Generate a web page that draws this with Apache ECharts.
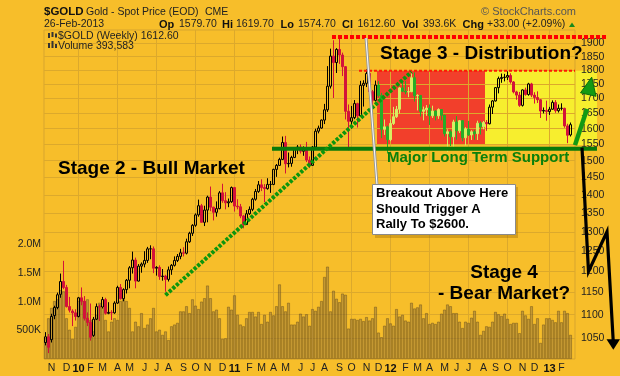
<!DOCTYPE html>
<html>
<head>
<meta charset="utf-8">
<script src="https://cdn.jsdelivr.net/npm/echarts@6/dist/echarts.min.js"></script>
<style>
  html, body { margin: 0; padding: 0; background: #f7be2a; }
  #chart { width: 620px; height: 376px; }
</style>
</head>
<body>
<div id="chart"></div>
<script>
// weekly bars, first week starts on this Monday
const START_WEEK = '2009-10-19';

const opens = [
  1040,1052,1046,1098,1116,1146,1176,1162,1118,1108, 1104,1096,1138,1130,1092,1083,1055,1090,1118,1117,
  1134,1103,1105,1104,1126,1162,1136,1157,1179,1209, 1228,1177,1213,1218,1227,1256,1256,1208,1210,1188,
  1189,1181,1204,1215,1227,1237,1246,1245,1274,1296, 1317,1345,1370,1325,1358,1394,1366,1352,1362,1406,
  1384,1378,1381,1421,1369,1367,1342,1319,1348,1360, 1388,1410,1429,1421,1418,1430,1430,1474,1486,1504,
  1556,1491,1492,1510,1536,1542,1529,1539,1502,1486, 1542,1592,1602,1628,1662,1743,1852,1828,1877,1856,
  1813,1657,1624,1636,1683,1642,1746,1753,1788,1724, 1694,1747,1711,1598,1606,1565,1617,1639,1664,1737,
  1725,1723,1724,1773,1710,1711,1657,1662,1668,1642, 1658,1642,1663,1644,1584,1590,1574,1622,1593,1626,
  1571,1599,1580,1590,1584,1618,1606,1620,1616,1671, 1692,1738,1770,1774,1775,1781,1758,1723,1712,1677,
  1730,1714,1751,1712,1704,1696,1658,1660,1656,1664, 1687,1659,1667,1667,1609,1580
];
const highs = [
  1062,1058,1102,1120,1150,1195,1226,1168,1140,1112, 1112,1140,1162,1142,1105,1125,1095,1125,1123,1140,
  1138,1128,1110,1130,1166,1170,1160,1182,1213,1249, 1234,1218,1222,1250,1261,1265,1262,1213,1215,1206,
  1192,1212,1218,1237,1243,1256,1260,1282,1300,1320, 1349,1387,1375,1370,1398,1424,1367,1382,1411,1432,
  1408,1390,1424,1423,1388,1375,1345,1358,1368,1392, 1417,1440,1445,1431,1448,1440,1476,1490,1509,1575,
  1577,1525,1515,1540,1548,1550,1544,1558,1513,1545, 1600,1610,1630,1682,1815,1880,1912,1882,1921,1865,
  1815,1680,1675,1695,1686,1762,1764,1803,1790,1730, 1763,1761,1720,1630,1610,1630,1672,1675,1740,1764,
  1761,1740,1790,1792,1715,1712,1673,1678,1680,1676, 1661,1667,1664,1645,1598,1595,1629,1641,1628,1628,
  1605,1625,1595,1597,1626,1624,1625,1628,1680,1695, 1740,1777,1788,1787,1796,1789,1761,1727,1723,1732,
  1738,1755,1755,1722,1725,1698,1670,1693,1672,1694, 1695,1680,1684,1669,1616,1620
];
const lows = [
  1034,1018,1040,1090,1112,1138,1158,1116,1105,1075, 1087,1094,1121,1087,1075,1044,1052,1088,1086,1114,
  1100,1101,1088,1102,1124,1134,1130,1148,1160,1195, 1160,1176,1197,1210,1221,1230,1196,1190,1180,1178,
  1152,1176,1192,1212,1223,1230,1237,1242,1271,1289, 1313,1340,1325,1315,1325,1355,1330,1340,1360,1378,
  1360,1366,1378,1354,1360,1336,1309,1318,1345,1355, 1384,1406,1411,1380,1415,1406,1428,1452,1485,1502,
  1462,1480,1482,1508,1520,1522,1515,1496,1478,1485, 1540,1585,1600,1615,1655,1735,1702,1790,1823,1779,
  1630,1532,1600,1631,1604,1641,1673,1740,1710,1672, 1690,1704,1570,1580,1522,1560,1612,1635,1650,1722,
  1715,1705,1722,1690,1660,1640,1627,1642,1612,1635, 1627,1632,1627,1575,1527,1545,1533,1565,1586,1560,
  1547,1577,1564,1565,1564,1581,1598,1593,1614,1648, 1690,1718,1755,1760,1765,1752,1718,1696,1672,1673,
  1710,1710,1705,1683,1685,1635,1650,1626,1645,1662, 1652,1653,1660,1603,1554,1575
];
const closes = [
  1052,1030,1096,1116,1145,1176,1162,1118,1110,1104, 1096,1138,1130,1092,1083,1051,1090,1118,1117,1134,
  1103,1105,1104,1126,1162,1136,1157,1179,1209,1228, 1177,1213,1218,1227,1256,1256,1208,1210,1188,1189,
  1181,1204,1215,1227,1237,1246,1245,1274,1296,1317, 1345,1370,1325,1358,1394,1366,1352,1362,1406,1384,
  1378,1381,1421,1369,1367,1342,1319,1348,1360,1388, 1410,1429,1421,1418,1430,1430,1474,1486,1504,1556,
  1491,1492,1510,1536,1542,1529,1539,1502,1486,1542, 1592,1602,1628,1662,1743,1852,1828,1877,1856,1813,
  1657,1624,1636,1683,1642,1746,1753,1788,1724,1694, 1747,1711,1598,1606,1565,1617,1639,1664,1737,1725,
  1723,1724,1773,1710,1711,1657,1662,1668,1642,1658, 1642,1663,1644,1584,1590,1574,1622,1593,1626,1571,
  1599,1580,1590,1584,1618,1606,1620,1616,1671,1692, 1738,1770,1774,1775,1781,1758,1723,1712,1677,1730,
  1714,1751,1712,1704,1696,1658,1660,1656,1664,1687, 1659,1667,1667,1609,1579,1613
];
// weekly volume, thousands
const volumes = [
  360,710,890,1010,1040,1200,1180,710,510,350, 560,1010,1040,1010,1040,680,480,770,980,890,
  680,480,650,710,680,1010,1040,1010,890,480, 650,570,800,540,600,710,890,480,510,420,
  480,330,570,600,630,830,830,920,800,1040, 930,870,1000,1060,1280,1060,830,860,710,350,
  360,910,860,1110,770,600,570,710,820,820, 740,820,610,770,650,820,760,920,1300,920,
  830,980,600,600,650,790,740,780,
  580,870,840,910,1010,1430,1610,830,1190,1050, 990,1140,1120,530,700,700,680,700,660,730,
  670,710,910,460,380,580,710,620,580,870, 740,770,670,650,980,880,900,950,710,800,
  610,630,610,650,790,860,950,920,800,800, 650,540,650,630,720,840,650,420,490,570,
  560,650,820,780,750,790,700,610,630,630, 450,840,760,700,920,610,710,280,600,710,
  710,680,640,840,640,840,800,420
];

const priceTicks = [1050,1100,1150,1200,1250,1300,1350,1400,1450,1500,1550,1600,1650,1700,1750,1800,1850,1900];
const volumeTicks = [500, 1000, 1500, 2000];
const volumeTickLabels = ['500K', '1.0M', '1.5M', '2.0M'];
const monthLetters = ['J','F','M','A','M','J','J','A','S','O','N','D'];

// annotation levels (prices) and week indexes
const PEAK_LINE = 1925;
const ZONE_TOP = 1798;
const ZONE_BOTTOM = 1548;
const SUPPORT = 1537;
const RED_ZONE = [111, 146];
const TREND_FROM = [40, 1144];
const TREND_TO = [122, 1794];

const BG = '#f7be2a';
const GRID_LINE = '#dca92c';
const FONT = '"Liberation Sans", Arial, sans-serif';

const categories = [];
const t0 = Date.parse(START_WEEK + 'T00:00:00Z');
for (let i = 0; i < closes.length; i++) {
  categories.push(new Date(t0 + i * 7 * 86400000).toISOString().slice(0, 10));
}
categories.push(''); // empty slot at the right edge

function monthOf(i) { return +categories[i].slice(5, 7); }
function isMonthStart(i) {
  return i > 0 && i < closes.length && monthOf(i) !== monthOf(i - 1);
}
function isQuarterStart(i) {
  return isMonthStart(i) && (monthOf(i) - 1) % 3 === 0;
}

const L = Math.log;
const candleData = closes.map((c, i) => {
  const prev = i ? closes[i - 1] : opens[i];
  const inRed = i >= RED_ZONE[0] && i <= RED_ZONE[1];
  const rising = c >= prev;
  const stroke = inRed ? (rising ? '#d8ee62' : '#26ad26') : (rising ? '#000000' : '#d3123a');
  const fill = c > opens[i] ? (inRed ? stroke : 'rgba(0,0,0,0)') : stroke;
  return {
    value: [L(opens[i]), L(c), L(lows[i]), L(highs[i])],
    itemStyle: { color: fill, color0: fill, borderColor: stroke, borderColor0: stroke }
  };
});

const chart = echarts.init(document.getElementById('chart'));

chart.setOption({
  backgroundColor: BG,
  animation: false,
  textStyle: { fontFamily: FONT },
  grid: [
    { left: 44, top: 30, width: 531, height: 329, show: true, borderColor: '#d7a52e', borderWidth: 1 },
    { left: 44, top: 30, width: 531, height: 329 }
  ],
  xAxis: [
    {
      type: 'category', gridIndex: 0, data: categories,
      axisLine: { show: false }, axisTick: { show: false },
      axisLabel: {
        interval: (i) => isMonthStart(i),
        formatter: (v) => {
          const m = +v.slice(5, 7);
          return m === 1 ? '{y|' + v.slice(2, 4) + '}' : monthLetters[m - 1];
        },
        margin: 4, color: '#222', fontSize: 10.5, fontFamily: FONT,
        rich: { y: { fontWeight: 'bold', fontSize: 11, color: '#111', fontFamily: FONT } }
      },
      splitLine: {
        show: true, interval: (i) => isQuarterStart(i), alignWithLabel: true,
        lineStyle: { color: GRID_LINE, width: 1 }
      }
    },
    { type: 'category', gridIndex: 1, data: categories, show: false }
  ],
  yAxis: [
    {
      type: 'value', gridIndex: 0, position: 'right',
      min: L(1006), max: L(1952),
      axisLine: { show: false },
      axisTick: { show: false, customValues: priceTicks.map(L) },
      axisLabel: {
        customValues: priceTicks.map(L),
        formatter: (v) => String(Math.round(Math.exp(v))),
        margin: 6, color: '#222', fontSize: 10.5, fontFamily: FONT
      },
      splitLine: { show: true, lineStyle: { color: GRID_LINE, width: 1 } }
    },
    {
      type: 'value', gridIndex: 1, position: 'left', min: 0, max: 5737,
      axisLine: { show: false },
      axisTick: { show: false, customValues: volumeTicks },
      axisLabel: {
        customValues: volumeTicks,
        formatter: (v) => volumeTickLabels[volumeTicks.indexOf(v)],
        margin: 3, color: '#222', fontSize: 10.5, fontFamily: FONT
      },
      splitLine: { show: false }
    }
  ],
  series: [
    {
      type: 'bar', xAxisIndex: 1, yAxisIndex: 1, data: volumes, silent: true,
      barCategoryGap: '8%',
      itemStyle: { color: 'rgba(140,110,60,0.48)', borderColor: 'rgba(105,78,28,0.75)', borderWidth: 0.6 }
    },
    {
      type: 'candlestick', xAxisIndex: 0, yAxisIndex: 0, data: candleData, silent: true,
      barWidth: 2.8, itemStyle: { borderWidth: 1 }
    }
  ]
});

// annotations, placed through the price scale
const at = (i, p) => chart.convertToPixel({ gridIndex: 0 }, [i, L(p)]);
const band = at(1, 1500)[0] - at(0, 1500)[0];
const edge = (i) => at(i, 1500)[0] - band / 2;
const yOf = (p) => at(0, p)[1];
const right = edge(closes.length + 1);

function text(x, y, s, font, fill, align) {
  return { type: 'text', x: x, y: y, z: 20,
    style: { text: s, font: font, fill: fill || '#000', align: align || 'left', verticalAlign: 'middle' } };
}
function line(points, stroke, width, dash, z) {
  return { type: 'polyline', z: z || 15, shape: { points: points },
    style: { stroke: stroke, lineWidth: width, lineDash: dash || null, fill: null } };
}

const zoneTop = yOf(ZONE_TOP), zoneBottom = yOf(ZONE_BOTTOM);
const els = [
  { type: 'rect', z: -1, shape: { x: edge(RED_ZONE[0]), y: zoneTop, width: edge(RED_ZONE[1] + 1) - edge(RED_ZONE[0]), height: zoneBottom - zoneTop },
    style: { fill: '#f23f2b' } },
  { type: 'rect', z: -1, shape: { x: edge(RED_ZONE[1] + 1), y: zoneTop, width: right + 22 - edge(RED_ZONE[1] + 1), height: zoneBottom - zoneTop },
    style: { fill: '#f7ee2e' } },
  line([[edge(96), yOf(PEAK_LINE)], [right + 32, yOf(PEAK_LINE)]], '#ff0000', 4, [4, 2]),
  line([[edge(105), zoneTop], [right, zoneTop]], '#ff1a00', 2, [3, 2]),
  line([[edge(76), yOf(SUPPORT)], [right + 22, yOf(SUPPORT)]], '#0a7a0a', 4),
  line([at(TREND_FROM[0], TREND_FROM[1]), at(TREND_TO[0], TREND_TO[1])], '#0c960c', 4, [3.2, 1.6]),

  text(58, 168.5, 'Stage 2 - Bull Market', 'bold 19px ' + FONT),
  text(380, 54, 'Stage 3 - Distribution?', 'bold 19px ' + FONT),
  text(387, 158.3, 'Major Long Term Support', 'bold 15px ' + FONT, '#0b800b'),
  text(504, 273, 'Stage 4', 'bold 19px ' + FONT, '#000', 'center'),
  text(504, 294, '- Bear Market?', 'bold 19px ' + FONT, '#000', 'center'),

  // callout
  line([[366, 38], [377, 185]], '#9a9a9a', 3),
  line([[366, 38], [377, 185]], '#ffffff', 1),
  { type: 'rect', z: 18, shape: { x: 375, y: 187, width: 143, height: 51 }, style: { fill: 'rgba(150,100,0,0.35)' } },
  { type: 'rect', z: 19, shape: { x: 372.5, y: 184.5, width: 143, height: 50 }, style: { fill: '#fff', stroke: '#8a8a8a', lineWidth: 1 } },
  text(376, 193.8, 'Breakout Above Here', 'bold 13px ' + FONT),
  text(376, 209.4, 'Should Trigger A', 'bold 13px ' + FONT),
  text(376, 224.2, 'Rally To $2600.', 'bold 13px ' + FONT),

  // projected path to the right of the plot
  line([[575, yOf(1548)], [587, yOf(1665)]], '#139a13', 4.5),
  { type: 'polygon', z: 16, shape: { points: [[591.7, yOf(1775)], [580.5, yOf(1720)], [596, yOf(1708)]] },
    style: { fill: '#139a13', stroke: '#0a6e0a', lineWidth: 1 } },
  line([[582, yOf(1540)], [588.5, yOf(1200)], [607, yOf(1300)], [613.3, yOf(1040)]], '#000', 3.2),
  { type: 'polygon', z: 16, shape: { points: [[606.5, yOf(1047)], [620, yOf(1047)], [613.3, yOf(1025)]] },
    style: { fill: '#000' } },

  // header
  text(44, 12, '$GOLD', 'bold 11.5px ' + FONT, '#111'),
  text(86, 12, 'Gold - Spot Price (EOD)', '10.5px ' + FONT, '#222'),
  text(205, 12, 'CME', '10.5px ' + FONT, '#222'),
  text(576, 12, '\u00a9 StockCharts.com', '11px ' + FONT, '#555', 'right'),
  text(44, 24.5, '26-Feb-2013', '10.5px ' + FONT, '#222'),
  text(159, 24.5, 'Op', 'bold 11px ' + FONT, '#111'),
  text(179, 24.5, '1579.70', '10.5px ' + FONT, '#222'),
  text(222, 24.5, 'Hi', 'bold 11px ' + FONT, '#111'),
  text(236, 24.5, '1619.70', '10.5px ' + FONT, '#222'),
  text(280.5, 24.5, 'Lo', 'bold 11px ' + FONT, '#111'),
  text(298, 24.5, '1574.70', '10.5px ' + FONT, '#222'),
  text(342, 24.5, 'Cl', 'bold 11px ' + FONT, '#111'),
  text(357.5, 24.5, '1612.60', '10.5px ' + FONT, '#222'),
  text(402, 24.5, 'Vol', 'bold 11px ' + FONT, '#111'),
  text(423, 24.5, '393.6K', '10.5px ' + FONT, '#222'),
  text(462.5, 24.5, 'Chg', 'bold 11px ' + FONT, '#111'),
  text(487, 24.5, '+33.00 (+2.09%)', '10.5px ' + FONT, '#222'),
  { type: 'polygon', z: 20, shape: { points: [[569, 27], [575, 27], [572, 22.5]] }, style: { fill: '#1a8a1a' } },

  // legend inside the plot
  { type: 'rect', z: 20, shape: { x: 48, y: 33, width: 2, height: 5 }, style: { fill: '#333' } },
  { type: 'rect', z: 20, shape: { x: 51.5, y: 32, width: 2, height: 5 }, style: { fill: '#333' } },
  { type: 'rect', z: 20, shape: { x: 55, y: 33.5, width: 2, height: 4 }, style: { fill: '#333' } },
  text(58, 35.8, '$GOLD (Weekly) 1612.60', '10.5px ' + FONT, '#222'),
  { type: 'rect', z: 20, shape: { x: 48, y: 43, width: 2, height: 5 }, style: { fill: '#333' } },
  { type: 'rect', z: 20, shape: { x: 51.5, y: 41, width: 2, height: 7 }, style: { fill: '#333' } },
  { type: 'rect', z: 20, shape: { x: 55, y: 44, width: 2, height: 4 }, style: { fill: '#333' } },
  text(58, 45.8, 'Volume 393,583', '10.5px ' + FONT, '#222')
];

chart.setOption({ graphic: { elements: els } });
</script>
</body>
</html>
